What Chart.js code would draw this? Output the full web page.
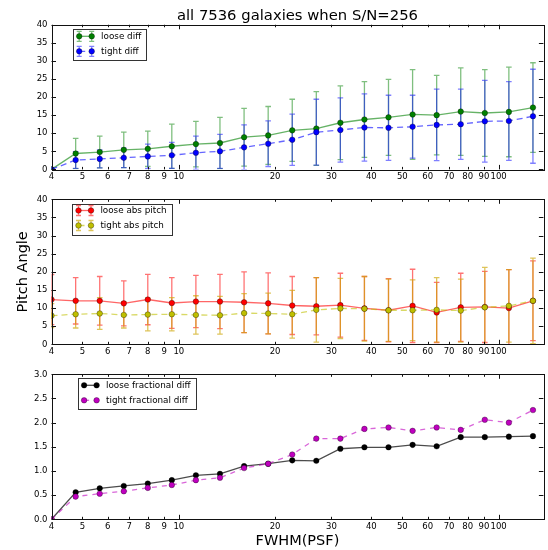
<!DOCTYPE html>
<html>
<head>
<meta charset="utf-8">
<script src="https://cdn.jsdelivr.net/npm/chart.js@4.4.1/dist/chart.umd.min.js"></script>
<style>
  html, body { margin: 0; padding: 0; background: #fff; }
  #wrap { position: relative; width: 548px; height: 550px; }
  #wrap canvas { position: absolute; left: 0; top: 0; }
</style>
</head>
<body>
<div id="wrap">
  <canvas id="diffChart" width="548" height="550"></canvas>
  <canvas id="pitchChart" width="548" height="550"></canvas>
  <canvas id="fracChart" width="548" height="550"></canvas>
</div>
<script>
// x positions (FWHM of the PSF)
const fwhm = [4, 4.76, 5.66, 6.73, 8, 9.51, 11.31, 13.45, 16, 19.03, 22.63,
  26.91, 32, 38.05, 45.25, 53.82, 64, 76.11, 90.51, 107.63, 128];
const xTicks = [4, 5, 6, 7, 8, 9, 10, 20, 30, 40, 50, 60, 70, 80, 90, 100];

// top panel
const looseDiff = [0, 4.4, 4.8, 5.4, 5.7, 6.4, 7.0, 7.3, 8.9, 9.4, 10.8, 11.3, 12.9, 13.8, 14.4, 15.2, 15.0, 16.0, 15.6, 15.9, 17.1];
const looseDiffErr = [0, 4.2, 4.4, 4.9, 4.9, 6.1, 6.3, 7.1, 8.0, 8.0, 8.6, 10.2, 10.2, 10.5, 10.5, 12.4, 11.0, 12.1, 12.0, 12.4, 12.4];
const tightDiff = [0, 2.6, 2.9, 3.2, 3.6, 3.9, 4.6, 5.0, 6.1, 7.1, 8.2, 10.3, 10.9, 11.6, 11.5, 11.8, 12.3, 12.5, 13.3, 13.4, 14.7];
const tightDiffErr = [0, 2.3, 2.5, 2.7, 3.4, 3.6, 4.6, 4.7, 6.2, 6.3, 7.1, 9.1, 8.9, 9.3, 9.0, 8.7, 9.9, 9.7, 11.3, 10.9, 13.0];

// middle panel
const looseAbs = [12.35, 12.0, 12.0, 11.3, 12.35, 11.4, 11.8, 11.8, 11.6, 11.3, 10.7, 10.5, 10.8, 9.9, 9.4, 10.6, 8.8, 10.2, 10.3, 10.0, 12.0];
const looseAbsErr = [6.9, 6.4, 6.7, 6.2, 6.95, 7.0, 7.2, 7.5, 8.4, 8.4, 8.0, 7.9, 8.8, 8.8, 8.7, 10.1, 8.3, 9.4, 9.8, 10.6, 11.0];
const tightAbs = [7.9, 8.3, 8.5, 8.1, 8.2, 8.3, 8.1, 8.0, 8.6, 8.5, 8.3, 9.5, 9.9, 9.8, 9.4, 9.4, 9.5, 9.3, 10.2, 10.6, 12.0];
const tightAbsErr = [3.3, 3.8, 4.4, 3.6, 4.5, 4.6, 5.3, 5.2, 5.4, 5.6, 6.6, 8.9, 8.3, 8.9, 8.6, 8.4, 8.9, 8.7, 11.0, 10.0, 11.8];

// bottom panel
const looseFrac = [0, 0.56, 0.64, 0.69, 0.74, 0.81, 0.91, 0.94, 1.10, 1.15, 1.22, 1.21, 1.46, 1.49, 1.49, 1.54, 1.51, 1.70, 1.70, 1.71, 1.72];
const tightFrac = [0, 0.47, 0.53, 0.58, 0.65, 0.71, 0.81, 0.86, 1.06, 1.15, 1.34, 1.67, 1.67, 1.87, 1.90, 1.83, 1.90, 1.85, 2.06, 2.00, 2.26];

const FONT = '"DejaVu Sans", sans-serif';

function pts(vals) {
  return fwhm.map((x, i) => ({ x: x, y: vals[i] }));
}

// matplotlib-like error bars with caps
const errorBars = {
  id: 'errorBars',
  beforeDatasetsDraw(chart) {
    const { ctx, chartArea: a, scales: { y } } = chart;
    ctx.save();
    ctx.beginPath();
    ctx.rect(a.left, a.top, a.right - a.left, a.bottom - a.top);
    ctx.clip();
    chart.data.datasets.forEach((ds, i) => {
      if (!ds.err) return;
      const meta = chart.getDatasetMeta(i);
      ctx.strokeStyle = ds.errColor;
      ctx.lineWidth = 1.3;
      meta.data.forEach((pt, j) => {
        const e = ds.err[j];
        if (!e) return;
        const v = ds.data[j].y;
        const y1 = y.getPixelForValue(v - e), y2 = y.getPixelForValue(v + e);
        ctx.beginPath();
        ctx.moveTo(pt.x, y1); ctx.lineTo(pt.x, y2);
        ctx.moveTo(pt.x - 2.8, y1); ctx.lineTo(pt.x + 2.8, y1);
        ctx.moveTo(pt.x - 2.8, y2); ctx.lineTo(pt.x + 2.8, y2);
        ctx.stroke();
      });
    });
    ctx.restore();
  }
};

// box frame with inward ticks on all four sides
const frameTicks = {
  id: 'frameTicks',
  afterDatasetsDraw(chart) {
    const { ctx, chartArea: a, scales: { x, y } } = chart;
    ctx.save();
    ctx.strokeStyle = '#111';
    ctx.lineWidth = 1;
    const seg = (x1, y1, x2, y2) => { ctx.beginPath(); ctx.moveTo(x1, y1); ctx.lineTo(x2, y2); ctx.stroke(); };
    x.ticks.forEach(t => {
      const px = Math.round(x.getPixelForValue(t.value)) + 0.5;
      const len = Number.isInteger(Math.log10(t.value)) ? 4.5 : 2.5;
      seg(px, a.bottom, px, a.bottom - len);
      seg(px, a.top, px, a.top + len);
    });
    y.ticks.forEach(t => {
      const py = Math.round(y.getPixelForValue(t.value)) + 0.5;
      seg(a.left, py, a.left + 4.5, py);
      seg(a.right, py, a.right - 4.5, py);
    });
    ctx.strokeRect(Math.round(a.left) + 0.5, Math.round(a.top) + 0.5,
      Math.round(a.right - a.left), Math.round(a.bottom - a.top));
    ctx.restore();
  }
};

// legend box inside the axes, upper left
const boxLegend = {
  id: 'boxLegend',
  afterDraw(chart, args, opts) {
    const { ctx } = chart;
    const dsets = chart.data.datasets;
    ctx.save();
    ctx.font = '8.8px ' + FONT;
    const textX = opts.left + 28.4;
    const w = Math.max(...dsets.map(d => ctx.measureText(d.label).width));
    const bw = textX + w + 5 - opts.left, bh = 31.4;
    ctx.fillStyle = '#fff';
    ctx.fillRect(opts.left, opts.top, bw, bh);
    ctx.strokeStyle = '#333';
    ctx.lineWidth = 1;
    ctx.strokeRect(Math.round(opts.left) + 0.5, Math.round(opts.top) + 0.5, Math.round(bw), Math.round(bh));
    dsets.forEach((d, i) => {
      const cy = opts.top + 7 + i * 15;
      const xs = [opts.left + 6.5, opts.left + 19];
      if (d.err) {
        ctx.strokeStyle = d.errColor;
        ctx.lineWidth = 1.3;
        xs.forEach(px => {
          ctx.beginPath();
          ctx.moveTo(px, cy - 5); ctx.lineTo(px, cy + 5);
          ctx.moveTo(px - 2.5, cy - 5); ctx.lineTo(px + 2.5, cy - 5);
          ctx.moveTo(px - 2.5, cy + 5); ctx.lineTo(px + 2.5, cy + 5);
          ctx.stroke();
        });
      }
      ctx.strokeStyle = d.borderColor;
      ctx.lineWidth = d.borderWidth;
      ctx.setLineDash(d.borderDash || []);
      ctx.beginPath(); ctx.moveTo(xs[0], cy); ctx.lineTo(xs[1], cy); ctx.stroke();
      ctx.setLineDash([]);
      xs.forEach(px => {
        ctx.beginPath();
        ctx.arc(px, cy, d.pointRadius, 0, Math.PI * 2);
        ctx.fillStyle = d.pointBackgroundColor;
        ctx.fill();
        ctx.strokeStyle = d.pointBorderColor;
        ctx.lineWidth = d.pointBorderWidth;
        ctx.stroke();
      });
      ctx.fillStyle = '#000';
      ctx.textBaseline = 'middle';
      ctx.textAlign = 'left';
      ctx.fillText(d.label, textX, cy);
    });
    ctx.restore();
  }
};

function series(label, vals, err, line, fill, errColor, dash, order) {
  return {
    label: label,
    data: pts(vals),
    err: err,
    errColor: errColor,
    borderColor: line,
    borderWidth: 1.3,
    borderDash: dash,
    pointRadius: 2.8,
    pointBackgroundColor: fill,
    pointBorderColor: 'rgba(0,0,0,0.55)',
    pointBorderWidth: 0.6,
    fill: false,
    tension: 0,
    order: order
  };
}

function makeChart(id, datasets, yOpts, pad, extra) {
  const xTitle = extra.xTitle || null;
  return new Chart(document.getElementById(id), {
    type: 'line',
    data: { datasets: datasets },
    options: {
      responsive: false,
      animation: false,
      events: [],
      layout: { padding: pad },
      plugins: {
        legend: { display: false },
        tooltip: { enabled: false },
        title: extra.title ? {
          display: true,
          fullSize: false,
          text: extra.title,
          color: '#000',
          font: { family: FONT, size: 14.8, weight: 'normal' },
          padding: { top: 7, bottom: 0 }
        } : { display: false },
        boxLegend: extra.legend
      },
      scales: {
        x: {
          type: 'logarithmic',
          min: 4,
          max: 138,
          grid: { display: false, drawTicks: false },
          border: { display: false },
          afterBuildTicks: s => { s.ticks = xTicks.map(v => ({ value: v })); },
          afterFit: s => { s.height = xTitle ? 30.7 : 20; },
          ticks: {
            autoSkip: false,
            maxRotation: 0,
            minRotation: 0,
            padding: 2,
            color: '#000',
            font: { family: FONT, size: 8.5 },
            callback: v => String(v)
          },
          title: xTitle ? {
            display: true,
            text: xTitle,
            color: '#000',
            font: { family: FONT, size: 14.5 },
            padding: { top: 0, bottom: 0.5 }
          } : { display: false }
        },
        y: {
          type: 'linear',
          min: yOpts.min,
          max: yOpts.max,
          grid: { display: false, drawTicks: false },
          border: { display: false },
          afterFit: s => { s.width = 51.5; },
          ticks: {
            stepSize: yOpts.step,
            padding: 4,
            color: '#000',
            font: { family: FONT, size: 8.5 },
            callback: yOpts.fmt
          },
          title: extra.yTitle ? {
            display: true,
            text: extra.yTitle,
            color: '#000',
            font: { family: FONT, size: 14.5 },
            padding: { top: 15, bottom: 0 }
          } : { display: false }
        }
      }
    },
    plugins: [errorBars, frameTicks, boxLegend]
  });
}

makeChart('diffChart', [
  series('loose diff', looseDiff, looseDiffErr, 'rgba(0,128,0,0.6)', '#008000', 'rgba(0,128,0,0.5)', [], 1),
  series('tight diff', tightDiff, tightDiffErr, 'rgba(0,0,255,0.6)', '#0000ff', 'rgba(0,0,255,0.5)', [6, 4], 0)
], { min: 0, max: 40, step: 5, fmt: v => String(v) },
  { top: 0, left: 0, right: 1.5, bottom: 360.6 },
  { title: 'all 7536 galaxies when S/N=256', legend: { left: 72.7, top: 29.3 } });

makeChart('pitchChart', [
  series('loose abs pitch', looseAbs, looseAbsErr, 'rgba(255,0,0,0.6)', '#ff0000', 'rgba(255,0,0,0.55)', [], 1),
  series('tight abs pitch', tightAbs, tightAbsErr, 'rgba(191,191,0,0.6)', '#bfbf00', 'rgba(205,165,0,0.65)', [6, 4], 0)
], { min: 0, max: 40, step: 5, fmt: v => String(v) },
  { top: 199.3, left: 0, right: 1.5, bottom: 185.7 },
  { yTitle: 'Pitch Angle', legend: { left: 72, top: 203.5 } });

makeChart('fracChart', [
  series('loose fractional diff', looseFrac, null, 'rgba(0,0,0,0.7)', '#000000', null, [], 1),
  series('tight fractional diff', tightFrac, null, 'rgba(191,0,191,0.6)', '#bf00bf', null, [5, 5], 0)
], { min: 0, max: 3, step: 0.5, fmt: v => v.toFixed(1) },
  { top: 374.3, left: 0, right: 1.5, bottom: 0 },
  { xTitle: 'FWHM(PSF)', legend: { left: 77.6, top: 378.3 } });
</script>
</body>
</html>
